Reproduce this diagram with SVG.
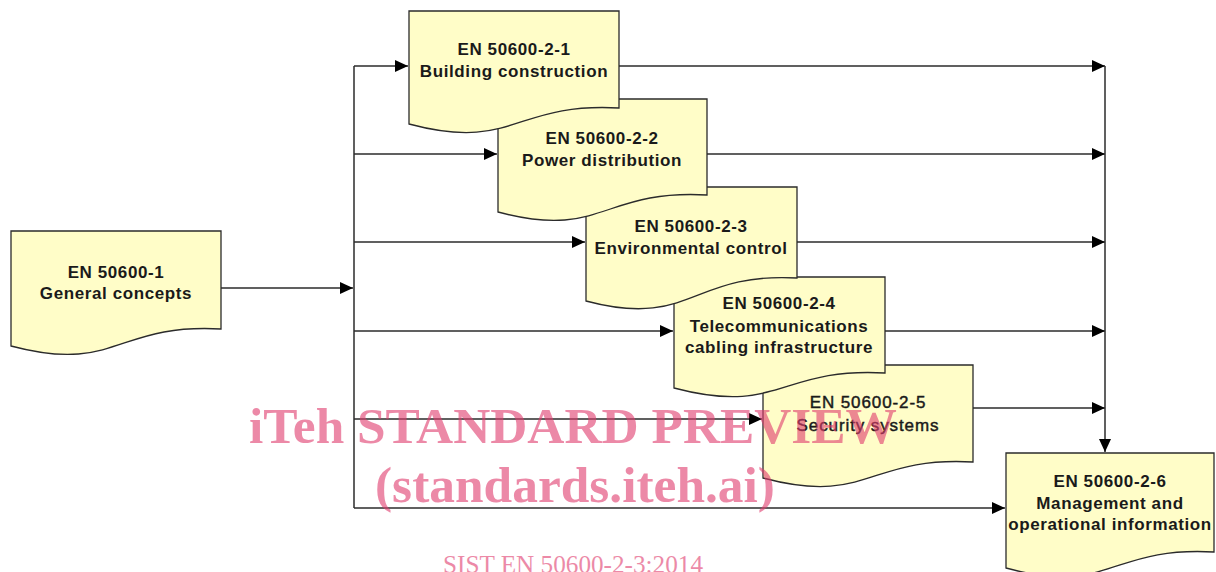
<svg xmlns="http://www.w3.org/2000/svg" width="1216" height="572" viewBox="0 0 1216 572">
  <style>
    .doc { fill: #fffdc8; stroke: #2b2b2b; stroke-width: 1.3; }
    .lbl { font-family: "Liberation Sans", Arial, sans-serif; font-size: 17px; font-weight: bold; fill: #1a1a1a; text-anchor: middle; letter-spacing: 0.6px; }
    .lbl.thin { font-weight: normal; stroke: #1a1a1a; stroke-width: 0.45; letter-spacing: 0.9px; }
    .wire { fill: none; stroke: #2b2b2b; stroke-width: 1.5; }
    .arr { marker-end: url(#head); }
    .wm { font-family: "Liberation Serif", "Times New Roman", serif; fill: #e13c6e; opacity: 0.6; text-anchor: middle; }
  </style>
  <defs>
    <marker id="head" viewBox="0 0 13 12" markerWidth="13" markerHeight="12" refX="13" refY="6" orient="auto" markerUnits="userSpaceOnUse">
      <path d="M0,0 L13,6 L0,12 Z" fill="#000"/>
    </marker>
  </defs>

  <!-- connectors -->
  <g id="connectors">
    <line class="wire arr" x1="221" y1="288" x2="353" y2="288"/>
    <line class="wire" x1="354" y1="66" x2="354" y2="508"/>
    <line class="wire arr" x1="354" y1="66" x2="408" y2="66"/>
    <line class="wire arr" x1="354" y1="154" x2="497" y2="154"/>
    <line class="wire arr" x1="354" y1="242" x2="585" y2="242"/>
    <line class="wire arr" x1="354" y1="331" x2="673" y2="331"/>
    <line class="wire arr" x1="354" y1="419" x2="762" y2="419"/>
    <line class="wire arr" x1="354" y1="508" x2="1005" y2="508"/>
    <line class="wire arr" x1="619" y1="66" x2="1105" y2="66"/>
    <line class="wire arr" x1="707" y1="154" x2="1105" y2="154"/>
    <line class="wire arr" x1="797" y1="242" x2="1105" y2="242"/>
    <line class="wire arr" x1="885" y1="331" x2="1105" y2="331"/>
    <line class="wire arr" x1="973" y1="408" x2="1105" y2="408"/>
    <line class="wire arr" x1="1105" y1="66" x2="1105" y2="452"/>
  </g>

  <!-- nodes (later parts first so earlier sheets overlap them) -->
  <g id="n26">
    <path class="doc" d="M1006,453 H1214 V552 C1110,546 1110,596 1006,568 Z"/>
    <text class="lbl" x="1110" y="487">EN 50600-2-6</text>
    <text class="lbl" x="1110" y="509">Management and</text>
    <text class="lbl" x="1110" y="530">operational information</text>
  </g>
  <g id="n25">
    <path class="doc" d="M763,365 H973 V462 C868,456 868,506 763,478 Z"/>
    <text class="lbl thin" x="868" y="408">EN 50600-2-5</text>
    <text class="lbl thin" x="868" y="431">Security systems</text>
  </g>
  <g id="n24">
    <path class="doc" d="M674,277 H885 V373 C780,367 780,416 674,388 Z"/>
    <text class="lbl" x="779" y="309">EN 50600-2-4</text>
    <text class="lbl" x="779" y="332">Telecommunications</text>
    <text class="lbl" x="779" y="353">cabling infrastructure</text>
  </g>
  <g id="n23">
    <path class="doc" d="M586,187 H797 V278 C691,272 691,329 586,301 Z"/>
    <text class="lbl" x="691" y="232">EN 50600-2-3</text>
    <text class="lbl" x="691" y="254">Environmental control</text>
  </g>
  <g id="n22">
    <path class="doc" d="M498,99 H707 V195 C602,189 602,240 498,212 Z"/>
    <text class="lbl" x="602" y="144">EN 50600-2-2</text>
    <text class="lbl" x="602" y="166">Power distribution</text>
  </g>
  <g id="n21">
    <path class="doc" d="M409,11 H619 V108 C514,102 514,152 409,124 Z"/>
    <text class="lbl" x="514" y="55">EN 50600-2-1</text>
    <text class="lbl" x="514" y="77">Building construction</text>
  </g>
  <g id="n1">
    <path class="doc" d="M11,231 H221 V329 C116,323 116,374 11,346 Z"/>
    <text class="lbl" x="116" y="278">EN 50600-1</text>
    <text class="lbl" x="116" y="299">General concepts</text>
  </g>

  <!-- publisher stamp -->
  <g id="stamp">
    <text class="wm" x="573" y="443" font-size="50" font-weight="bold" textLength="648" lengthAdjust="spacingAndGlyphs">iTeh STANDARD PREVIEW</text>
    <text class="wm" x="575" y="502" font-size="50" font-weight="bold" textLength="400" lengthAdjust="spacingAndGlyphs">(standards.iteh.ai)</text>
    <text class="wm" x="573" y="573" font-size="25" textLength="260" lengthAdjust="spacingAndGlyphs">SIST EN 50600-2-3:2014</text>
  </g>
</svg>
